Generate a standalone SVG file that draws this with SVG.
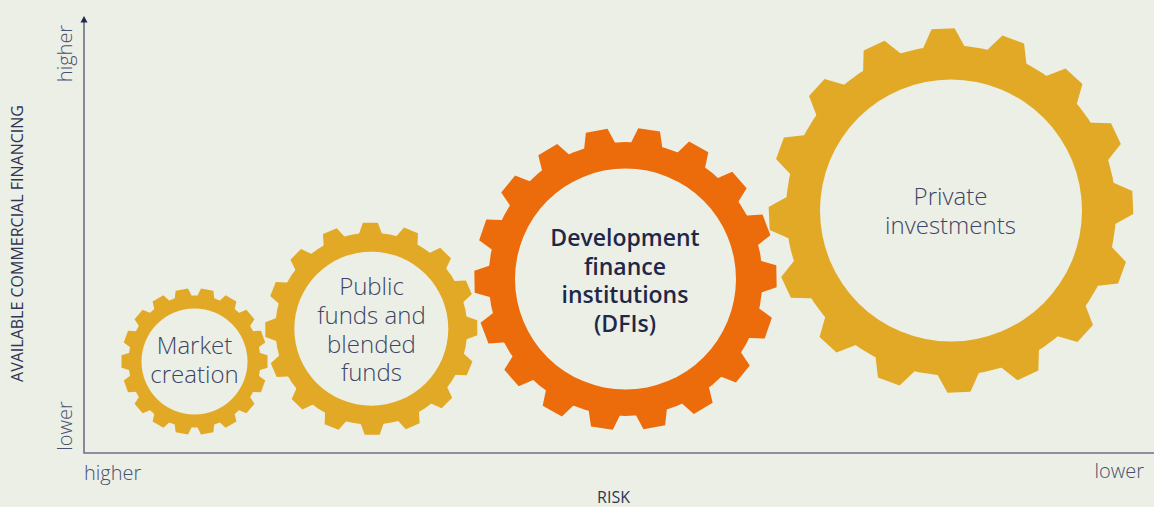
<svg xmlns="http://www.w3.org/2000/svg" xmlns:xlink="http://www.w3.org/1999/xlink" width="1154" height="507" viewBox="0 0 1154 507">
<style>
.bg{fill:#ECEFE5}
.yel{fill:#E2A926}
.org{fill:#EC6B0A}
.hole{fill:#ECEFE5}
.lbl{font-family:"Open Sans","Liberation Sans",sans-serif;font-size:24px;font-weight:300;fill:#3D4566;text-anchor:middle}
.lblb{font-family:"Open Sans","Liberation Sans",sans-serif;font-size:23px;font-weight:600;fill:#1F2848;text-anchor:middle}
.ax{font-family:"Open Sans","Liberation Sans",sans-serif;font-size:20px;font-weight:300;fill:#4A5070}
.axt{font-family:"Open Sans","Liberation Sans",sans-serif;font-size:16px;font-weight:400;fill:#2E3654}
.axis{stroke:#6B7189;stroke-width:1.6;fill:none}
</style>
<defs>
<polygon id="t1" points="-10.2,-60 -6.25,-73 6.25,-73 10.2,-60"/>
<polygon id="t2" points="-12.9,-91 -7.5,-106 7.5,-106 12.9,-91"/>
<polygon id="t3" points="-17.5,-130 -11,-151 11,-151 17.5,-130"/>
<polygon id="t4" points="-23.5,-158 -11.5,-182 11.5,-182 23.5,-158"/>
</defs>
<rect class="bg" x="0" y="0" width="1154" height="507"/>

<g id="connectors">
<path class="axis" d="M84,21 V453 H1154"/>
<polygon points="84,16 80.5,22.5 87.5,22.5" fill="#1F2848"/>
</g>

<g id="axis-labels">
<text class="axt" transform="translate(23,243.5) rotate(-90)" text-anchor="middle">AVAILABLE COMMERCIAL FINANCING</text>
<text class="ax" transform="translate(72,53.5) rotate(-90)" text-anchor="middle">higher</text>
<text class="ax" transform="translate(72,426) rotate(-90)" text-anchor="middle">lower</text>
<text class="ax" x="84" y="480">higher</text>
<text class="ax" x="1144" y="478" text-anchor="end">lower</text>
<text class="axt" x="613.5" y="503" text-anchor="middle">RISK</text>
</g>

<g id="gear-market">
<g class="yel" transform="translate(194.5,361.5)">
<circle r="66"/>
<use xlink:href="#t1" transform="rotate(10)"/><use xlink:href="#t1" transform="rotate(30)"/><use xlink:href="#t1" transform="rotate(50)"/><use xlink:href="#t1" transform="rotate(70)"/><use xlink:href="#t1" transform="rotate(90)"/><use xlink:href="#t1" transform="rotate(110)"/><use xlink:href="#t1" transform="rotate(130)"/><use xlink:href="#t1" transform="rotate(150)"/><use xlink:href="#t1" transform="rotate(170)"/><use xlink:href="#t1" transform="rotate(190)"/><use xlink:href="#t1" transform="rotate(210)"/><use xlink:href="#t1" transform="rotate(230)"/><use xlink:href="#t1" transform="rotate(250)"/><use xlink:href="#t1" transform="rotate(270)"/><use xlink:href="#t1" transform="rotate(290)"/><use xlink:href="#t1" transform="rotate(310)"/><use xlink:href="#t1" transform="rotate(330)"/><use xlink:href="#t1" transform="rotate(350)"/>
</g>
<circle class="hole" cx="194.5" cy="361.5" r="53"/>
<text class="lbl" x="194.5" y="354">Market</text>
<text class="lbl" x="194.5" y="383">creation</text>
</g>

<g id="gear-public">
<g class="yel" transform="translate(371.3,328.7)">
<circle r="96"/>
<use xlink:href="#t2" transform="rotate(-0.5)"/><use xlink:href="#t2" transform="rotate(22)"/><use xlink:href="#t2" transform="rotate(44.5)"/><use xlink:href="#t2" transform="rotate(67)"/><use xlink:href="#t2" transform="rotate(89.5)"/><use xlink:href="#t2" transform="rotate(112)"/><use xlink:href="#t2" transform="rotate(134.5)"/><use xlink:href="#t2" transform="rotate(157)"/><use xlink:href="#t2" transform="rotate(179.5)"/><use xlink:href="#t2" transform="rotate(202)"/><use xlink:href="#t2" transform="rotate(224.5)"/><use xlink:href="#t2" transform="rotate(247)"/><use xlink:href="#t2" transform="rotate(269.5)"/><use xlink:href="#t2" transform="rotate(292)"/><use xlink:href="#t2" transform="rotate(314.5)"/><use xlink:href="#t2" transform="rotate(337)"/>
</g>
<circle class="hole" cx="371.3" cy="328.7" r="77"/>
<text class="lbl" x="371.5" y="295">Public</text>
<text class="lbl" x="371.5" y="324">funds and</text>
<text class="lbl" x="371.5" y="352.5">blended</text>
<text class="lbl" x="371.5" y="381">funds</text>
</g>

<g id="gear-dfi">
<g class="org" transform="translate(625.5,279)">
<circle r="137"/>
<use xlink:href="#t3" transform="rotate(9)"/><use xlink:href="#t3" transform="rotate(29)"/><use xlink:href="#t3" transform="rotate(49)"/><use xlink:href="#t3" transform="rotate(69)"/><use xlink:href="#t3" transform="rotate(89)"/><use xlink:href="#t3" transform="rotate(109)"/><use xlink:href="#t3" transform="rotate(129)"/><use xlink:href="#t3" transform="rotate(149)"/><use xlink:href="#t3" transform="rotate(169)"/><use xlink:href="#t3" transform="rotate(189)"/><use xlink:href="#t3" transform="rotate(209)"/><use xlink:href="#t3" transform="rotate(229)"/><use xlink:href="#t3" transform="rotate(249)"/><use xlink:href="#t3" transform="rotate(269)"/><use xlink:href="#t3" transform="rotate(289)"/><use xlink:href="#t3" transform="rotate(309)"/><use xlink:href="#t3" transform="rotate(329)"/><use xlink:href="#t3" transform="rotate(349)"/>
</g>
<circle class="hole" cx="625.5" cy="279" r="110.5"/>
<text class="lblb" x="625" y="246">Development</text>
<text class="lblb" x="625" y="274.5">finance</text>
<text class="lblb" x="625" y="303">institutions</text>
<text class="lblb" x="625" y="331.5">(DFIs)</text>
</g>

<g id="gear-private">
<g class="yel" transform="translate(951,210.5)">
<circle r="165"/>
<use xlink:href="#t4" transform="rotate(-2.5)"/><use xlink:href="#t4" transform="rotate(20)"/><use xlink:href="#t4" transform="rotate(42.5)"/><use xlink:href="#t4" transform="rotate(65)"/><use xlink:href="#t4" transform="rotate(87.5)"/><use xlink:href="#t4" transform="rotate(110)"/><use xlink:href="#t4" transform="rotate(132.5)"/><use xlink:href="#t4" transform="rotate(155)"/><use xlink:href="#t4" transform="rotate(177.5)"/><use xlink:href="#t4" transform="rotate(200)"/><use xlink:href="#t4" transform="rotate(222.5)"/><use xlink:href="#t4" transform="rotate(245)"/><use xlink:href="#t4" transform="rotate(267.5)"/><use xlink:href="#t4" transform="rotate(290)"/><use xlink:href="#t4" transform="rotate(312.5)"/><use xlink:href="#t4" transform="rotate(335)"/>
</g>
<circle class="hole" cx="951" cy="210.5" r="131"/>
<text class="lbl" x="950.5" y="205">Private</text>
<text class="lbl" x="950.5" y="233.5">investments</text>
</g>
</svg>
